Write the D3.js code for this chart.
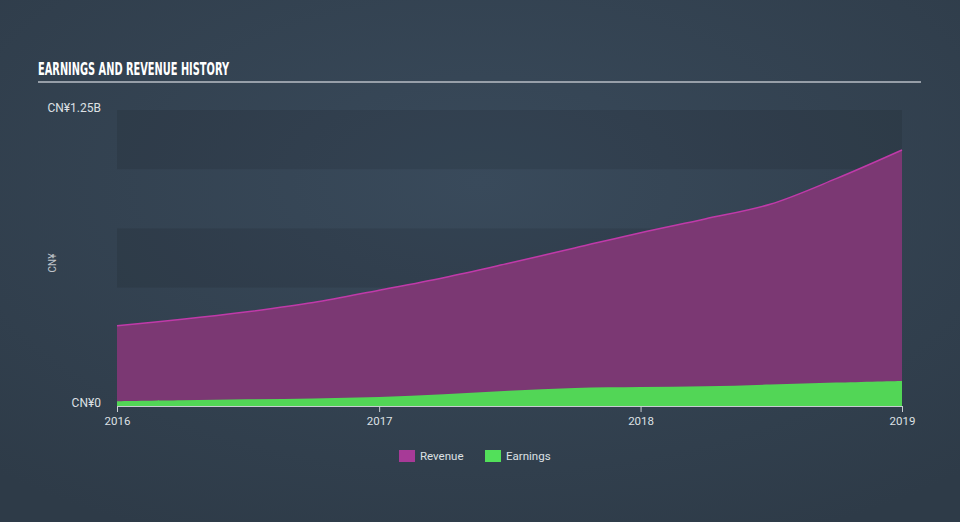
<!DOCTYPE html>
<html>
<head>
<meta charset="utf-8">
<script src="https://cdn.jsdelivr.net/npm/d3@7"></script>
<style>
html,body{margin:0;padding:0;background:#334151;}
svg{display:block;}
</style>
</head>
<body>
<div id="chart"></div>
<script>
const dates = ["2016-01-01","2016-04-01","2016-07-01","2016-10-01","2017-01-01","2017-04-01","2017-07-01","2017-10-01","2018-01-01","2018-04-01","2018-07-01","2018-10-01","2019-01-01"];
const revenue = [0.339,0.366,0.398,0.437,0.489,0.542,0.603,0.667,0.732,0.790,0.852,0.960,1.081]; // CN¥ billions
const earnings = [0.020,0.024,0.028,0.032,0.038,0.050,0.064,0.076,0.080,0.083,0.091,0.099,0.106]; // CN¥ billions
const xTickLabels = ["2016","2017","2018","2019"];
const yTickLabels = ["CN¥0","CN¥1.25B"];
const yTickValues = [0,1.25];
const legendNames = ["Revenue","Earnings"];

const W = 960, H = 522;
const parse = d3.timeParse("%Y-%m-%d");
const pts = dates.map((d,i)=>({date:parse(d), rev:revenue[i], earn:earnings[i]}));

const svg = d3.select("#chart").append("svg").attr("width",W).attr("height",H);
const defs = svg.append("defs");
const rg = defs.append("radialGradient").attr("id","bg").attr("cx","50%").attr("cy","35%").attr("r","75%");
rg.append("stop").attr("offset","0%").attr("stop-color","#394a5b");
rg.append("stop").attr("offset","100%").attr("stop-color","#2e3b48");
svg.append("rect").attr("width",W).attr("height",H).attr("fill","url(#bg)");

const x = d3.scaleTime().domain([parse("2016-01-01"),parse("2019-01-01")]).range([117,902]);
const y = d3.scaleLinear().domain([0,1.25]).range([406,110]);

// title
svg.append("text").attr("x",38).attr("y",75).text("EARNINGS AND REVENUE HISTORY")
  .attr("font-family","'Liberation Sans Narrow','DejaVu Sans Condensed',sans-serif")
  .attr("font-weight","bold").attr("font-size",18).attr("fill","#ffffff")
  .attr("textLength",191).attr("lengthAdjust","spacingAndGlyphs");
svg.append("line").attr("x1",38).attr("x2",921).attr("y1",82).attr("y2",82)
  .attr("stroke","#b8bec6").attr("stroke-width",1.5);

// bands
const bandVals = d3.range(0,1.25,0.25);
svg.append("g").selectAll("rect").data(bandVals.filter((d,i)=>i%2===0)).join("rect")
  .attr("x",x.range()[0]).attr("width",x.range()[1]-x.range()[0])
  .attr("y",d=>y(d+0.25)).attr("height",d=>y(d)-y(d+0.25))
  .attr("fill","#000").attr("fill-opacity",0.09);

// areas
const curve = d3.curveCatmullRom.alpha(0.5);
const revArea = d3.area().x(d=>x(d.date)).y0(y(0)).y1(d=>y(d.rev)).curve(curve);
const revLine = d3.line().x(d=>x(d.date)).y(d=>y(d.rev)).curve(curve);
const earnArea = d3.area().x(d=>x(d.date)).y0(y(0)).y1(d=>y(d.earn)).curve(curve);
svg.append("path").datum(pts).attr("d",revArea).attr("fill","#7b3873");
svg.append("path").datum(pts).attr("d",revLine).attr("fill","none").attr("stroke","#c03aa9").attr("stroke-width",1.5);
svg.append("path").datum(pts).attr("d",earnArea).attr("fill","#52d656");

// x axis
const xAxis = d3.axisBottom(x).tickValues(xTickLabels.map(s=>parse(s+"-01-01"))).tickFormat(d3.timeFormat("%Y")).tickSize(6).tickSizeOuter(0);
const gx = svg.append("g").attr("transform",`translate(0,${y(0)})`).call(xAxis);
gx.select(".domain").attr("stroke","#c8ccd2");
gx.selectAll(".tick line").attr("stroke","#c8ccd2");
gx.selectAll(".tick text").attr("fill","#dde0e4").attr("font-size",11.5).attr("font-family","Roboto,'Open Sans',sans-serif").attr("dy","0.85em");

// y labels
defs.append("clipPath").attr("id","yclip").append("rect").attr("x",47).attr("y",0).attr("width",100).attr("height",H);
const gy = svg.append("g").attr("clip-path","url(#yclip)");
gy.selectAll("text").data(yTickValues).join("text")
  .attr("x",101).attr("y",d=>y(d)).attr("dy",d=>d===0?"0.05em":"0.2em")
  .attr("text-anchor","end").attr("fill","#dde0e4").attr("font-size",12)
  .attr("font-family","Roboto,'Open Sans',sans-serif")
  .text((d,i)=>yTickLabels[i]);
gy.append("text").attr("transform","translate(56,263) rotate(-90)").attr("text-anchor","middle")
  .attr("fill","#c0c4ca").attr("font-size",10).attr("font-family","Roboto,sans-serif").text("CN¥");

// legend
const legColors = ["#a73a97","#52e05a"];
const lg = svg.append("g");
const legX = [399,485];
legendNames.forEach((n,i)=>{
  lg.append("rect").attr("x",legX[i]).attr("y",450).attr("width",16).attr("height",12).attr("fill",legColors[i]);
  lg.append("text").attr("x",legX[i]+21).attr("y",460).text(n).attr("fill","#dde0e4")
    .attr("font-size",11.5).attr("font-family","Roboto,'Open Sans',sans-serif");
});
</script>
</body>
</html>
